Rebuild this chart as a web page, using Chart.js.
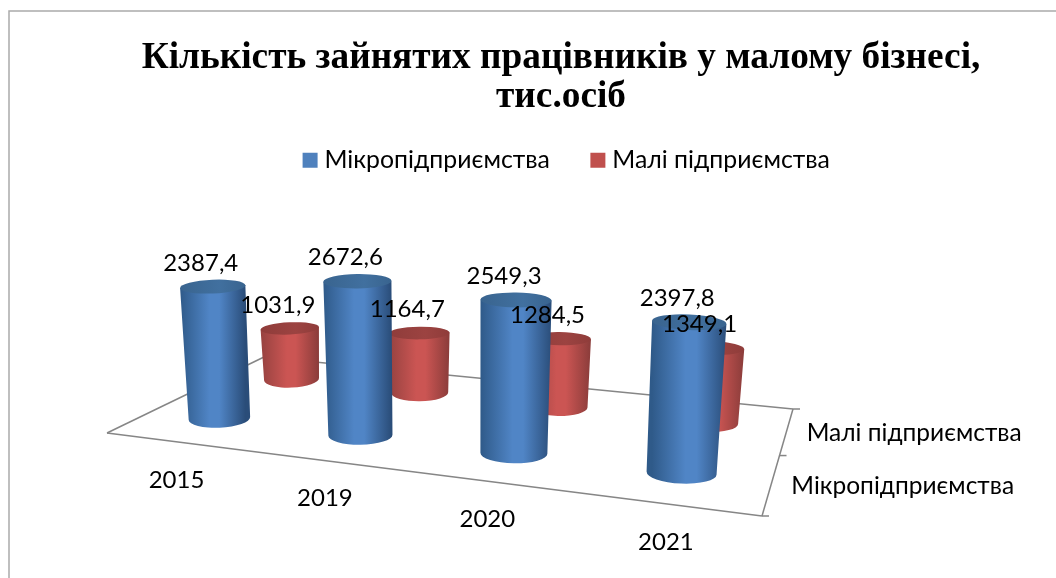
<!DOCTYPE html>
<html>
<head>
<meta charset="utf-8">
<title>Кількість зайнятих працівників</title>
<script src="https://cdn.jsdelivr.net/npm/chart.js@4/dist/chart.umd.min.js"></script>
<style>
  body { margin: 0; background: #fff; }
  canvas { display: block; }
</style>
</head>
<body>
<canvas id="chart" width="1056" height="578"></canvas>
<script>
const categories = ['2015', '2019', '2020', '2021'];
const seriesNames = ['Мікропідприємства', 'Малі підприємства'];
const microValues = [2387.4, 2672.6, 2549.3, 2397.8];
const smallValues = [1031.9, 1164.7, 1284.5, 1349.1];
const yMax = 3000;

const labelFont = '24px Lato, "Open Sans", sans-serif';
const seriesFont = '24.5px Lato, "Open Sans", sans-serif';

// Floor corners on screen: front left, front right, back right, back left
const floor = [[107, 433], [762, 516], [793, 409], [264, 357]];
const wallHeight = 172.5; // px for yMax at depth factor 1
const radius = 33;
const lean = 0.00022;

// Perspective map from the unit square to the floor
function makeProjection(q) {
    const dx1 = q[1][0] - q[2][0], dx2 = q[3][0] - q[2][0];
    const dy1 = q[1][1] - q[2][1], dy2 = q[3][1] - q[2][1];
    const sx = q[0][0] - q[1][0] + q[2][0] - q[3][0];
    const sy = q[0][1] - q[1][1] + q[2][1] - q[3][1];
    const det = dx1 * dy2 - dx2 * dy1;
    const g = (sx * dy2 - dx2 * sy) / det;
    const h = (dx1 * sy - sx * dy1) / det;
    const a = q[1][0] - q[0][0] + g * q[1][0];
    const b = q[3][0] - q[0][0] + h * q[3][0];
    const d = q[1][1] - q[0][1] + g * q[1][1];
    const e = q[3][1] - q[0][1] + h * q[3][1];
    return (u, v) => {
        const w = g * u + h * v + 1;
        return {
            x: (a * u + b * v + q[0][0]) / w,
            y: (d * u + e * v + q[0][1]) / w,
            scale: 1 / w
        };
    };
}
const project = makeProjection(floor);

const palette = [
    { edgeL: '#2f5a89', mid: '#5085c6', edgeR: '#2a4d79', top: '#39648f', topLight: '#41709f' },
    { edgeL: '#964240', mid: '#cb5553', edgeR: '#8a3c3a', top: '#8f3c3a', topLight: '#9c4341' }
];

function drawLine(ctx, a, b) {
    ctx.beginPath();
    ctx.moveTo(a[0], a[1]);
    ctx.lineTo(b[0], b[1]);
    ctx.stroke();
}

function drawCylinder(ctx, c, colors) {
    const { base, top, rBase, rTop, angle } = c;
    const cos = Math.cos(angle), sin = Math.sin(angle);
    const grad = ctx.createLinearGradient(top.x - rTop, 0, top.x + rTop, 0);
    grad.addColorStop(0, colors.edgeL);
    grad.addColorStop(0.45, colors.mid);
    grad.addColorStop(0.6, colors.mid);
    grad.addColorStop(1, colors.edgeR);

    ctx.fillStyle = grad;
    ctx.beginPath();
    ctx.moveTo(top.x - rTop * cos, top.y - rTop * sin);
    ctx.lineTo(base.x - rBase * cos, base.y - rBase * sin);
    ctx.ellipse(base.x, base.y, rBase, rBase * 0.3, angle, Math.PI, 0, true);
    ctx.lineTo(top.x + rTop * cos, top.y + rTop * sin);
    ctx.closePath();
    ctx.fill();

    const topGrad = ctx.createLinearGradient(top.x - rTop, 0, top.x + rTop, 0);
    topGrad.addColorStop(0, colors.top);
    topGrad.addColorStop(0.6, colors.topLight);
    topGrad.addColorStop(1, colors.top);
    ctx.fillStyle = topGrad;
    ctx.beginPath();
    ctx.ellipse(top.x, top.y, rTop, rTop * 0.21, angle, 0, Math.PI * 2);
    ctx.fill();
}

// Bars are positioned by Chart.js, this plugin only projects them onto the floor
const cylinderPlugin = {
    id: 'cylinders',
    beforeDatasetDraw() {
        return false;
    },
    afterLayout(chart) {
        // Legend sits a little right of the title
        chart.legend.left += 8;
        chart.legend.right += 8;
    },
    beforeDraw(chart) {
        const ctx = chart.ctx;
        ctx.save();
        ctx.strokeStyle = '#ababab';
        ctx.lineWidth = 1.5;
        ctx.beginPath();
        ctx.moveTo(9, 578);
        ctx.lineTo(9, 11);
        ctx.lineTo(1056, 11);
        ctx.stroke();
        ctx.restore();
    },
    afterDatasetsDraw(chart) {
        const ctx = chart.ctx;
        const xScale = chart.scales.x;
        const area = chart.chartArea;
        const catWidth = area.width / categories.length;

        ctx.save();
        ctx.strokeStyle = '#868686';
        ctx.lineWidth = 1.5;
        drawLine(ctx, floor[3], floor[0]);
        drawLine(ctx, floor[0], floor[1]);
        drawLine(ctx, floor[1], floor[2]);
        drawLine(ctx, floor[2], floor[3]);
        [0, 0.5, 1].forEach(v => {
            const p = project(1, v);
            drawLine(ctx, [p.x, p.y], [p.x + 7, p.y]);
        });

        // Back row first, the front row overlaps it
        const labels = [];
        [1, 0].forEach(ds => {
            chart.getDatasetMeta(ds).data.forEach((bar, i) => {
                const tick = xScale.getPixelForValue(i);
                const u = (tick - area.left) / area.width;
                const v = (bar.x - tick) / catWidth + 0.5;
                const base = project(u, v);
                const h = (bar.base - bar.y) / area.height * wallHeight * base.scale;
                const top = { x: base.x + (base.x - 450) * lean * h, y: base.y - h };
                drawCylinder(ctx, {
                    base: base,
                    top: top,
                    rBase: radius * base.scale * 0.97,
                    rTop: radius * base.scale * 1.03,
                    angle: (u - 0.5) * 0.12
                }, palette[ds]);
                labels.push({ x: top.x - 12, y: top.y - 23.5, value: chart.data.datasets[ds].data[i] });
            });
        });

        ctx.fillStyle = '#000';
        ctx.font = labelFont;
        ctx.textAlign = 'center';
        ctx.textBaseline = 'middle';
        labels.forEach(l => {
            ctx.fillText(l.value.toFixed(1).replace('.', ','), l.x, l.y);
        });

        // Category names below the front edge
        xScale.getLabels().forEach((name, i) => {
            const p = project((xScale.getPixelForValue(i) - area.left) / area.width, 0);
            ctx.fillText(name, p.x, p.y + 38);
        });

        // Series names next to the right edge
        ctx.font = seriesFont;
        ctx.textAlign = 'left';
        seriesNames.forEach((name, i) => {
            const p = project(1, 0.25 + i * 0.5);
            ctx.fillText(name, p.x + 20, p.y + 2);
        });
        ctx.restore();
    }
};

new Chart(document.getElementById('chart'), {
    type: 'bar',
    data: {
        labels: categories,
        datasets: [
            { label: seriesNames[0], data: microValues, backgroundColor: '#4f81bd', categoryPercentage: 1, barPercentage: 1 },
            { label: seriesNames[1], data: smallValues, backgroundColor: '#c0504d', categoryPercentage: 1, barPercentage: 1 }
        ]
    },
    options: {
        responsive: false,
        animation: false,
        layout: { padding: { left: 66, top: 28 } },
        scales: {
            x: { display: false },
            y: { display: false, min: 0, max: yMax }
        },
        plugins: {
            tooltip: { enabled: false },
            title: {
                display: true,
                text: ['Кількість зайнятих працівників у малому бізнесі,', 'тис.осіб'],
                color: '#000',
                font: { family: '"Liberation Serif", serif', size: 37.3, weight: 'bold', lineHeight: 1.07 },
                padding: { top: 10, bottom: -16 }
            },
            legend: {
                position: 'top',
                labels: {
                    color: '#000',
                    font: { family: 'Lato, "Open Sans", sans-serif', size: 24.8 },
                    usePointStyle: true,
                    pointStyle: 'rect',
                    boxWidth: 4,
                    boxHeight: 15,
                    padding: 46
                }
            }
        }
    },
    plugins: [cylinderPlugin]
});
</script>
</body>
</html>
